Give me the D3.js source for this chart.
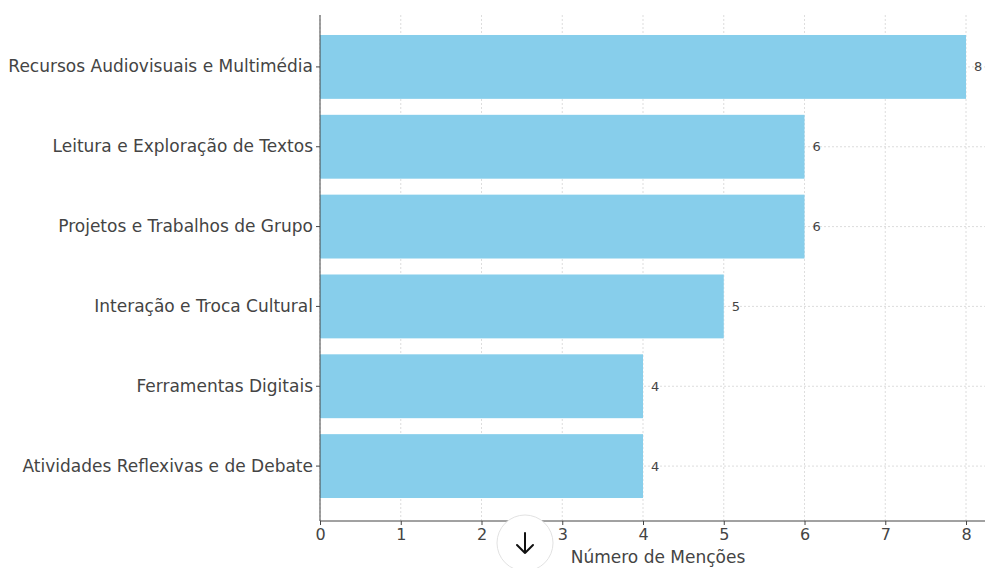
<!DOCTYPE html>
<html>
<head>
<meta charset="utf-8">
<script src="https://cdn.jsdelivr.net/npm/d3@7"></script>
<style>
  body { margin: 0; background: #fff; }
  svg { display: block; font-family: "DejaVu Sans", sans-serif; }
</style>
</head>
<body>
<svg id="chart" width="985" height="568"></svg>
<script>
var categories = [
  "Recursos Audiovisuais e Multimédia",
  "Leitura e Exploração de Textos",
  "Projetos e Trabalhos de Grupo",
  "Interação e Troca Cultural",
  "Ferramentas Digitais",
  "Atividades Reflexivas e de Debate"
];
var mentions = [8, 6, 6, 5, 4, 4];
var xTicks = [0, 1, 2, 3, 4, 5, 6, 7, 8];

// plot box (note: "top" is reserved on window, so use other names)
var plotLeft = 320, plotTop = 15, plotBottom = 521, plotRight = 985;

var svg = d3.select("#chart");

var x = d3.scaleLinear().domain([0, 8.235]).range([plotLeft, plotRight]);
var y = d3.scaleBand().domain(categories).range([27, 506])
    .paddingInner(0.2).paddingOuter(0.1);

// grid
var grid = svg.append("g").attr("stroke", "#d4d4d4").attr("stroke-width", 0.8)
    .attr("stroke-dasharray", "2,2");
grid.selectAll("line.v").data(xTicks).enter().append("line")
    .attr("x1", function(d) { return x(d); }).attr("x2", function(d) { return x(d); })
    .attr("y1", plotTop).attr("y2", plotBottom);
grid.selectAll("line.h").data(categories).enter().append("line")
    .attr("x1", plotLeft).attr("x2", plotRight)
    .attr("y1", function(d) { return y(d) + y.bandwidth() / 2; })
    .attr("y2", function(d) { return y(d) + y.bandwidth() / 2; });

// bars
svg.append("g").selectAll("rect").data(categories).enter().append("rect")
    .attr("x", x(0))
    .attr("y", function(d) { return y(d); })
    .attr("height", y.bandwidth())
    .attr("width", function(d, i) { return x(mentions[i]) - x(0); })
    .attr("fill", "#87ceeb");

// value labels
svg.append("g").selectAll("text").data(categories).enter().append("text")
    .attr("x", function(d, i) { return x(mentions[i]) + 8; })
    .attr("y", function(d) { return y(d) + y.bandwidth() / 2; })
    .attr("dy", "0.35em")
    .attr("font-size", 13)
    .attr("fill", "#444")
    .text(function(d, i) { return mentions[i]; });

// axes
var xAxis = d3.axisBottom(x).tickValues(xTicks).tickSize(4).tickPadding(4);
var gx = svg.append("g").attr("transform", "translate(0," + plotBottom + ")").call(xAxis);
gx.select(".domain").attr("d", "M" + plotLeft + ",0H" + plotRight).attr("stroke", "#444");
gx.selectAll(".tick line").attr("stroke", "#444");
gx.selectAll("text").attr("font-size", 16).attr("fill", "#444")
    .attr("font-family", "DejaVu Sans, sans-serif");

var yAxis = d3.axisLeft(y).tickSize(4).tickPadding(3);
var gy = svg.append("g").attr("transform", "translate(" + plotLeft + ",0)").call(yAxis);
gy.select(".domain").attr("d", "M0," + plotTop + "V" + plotBottom).attr("stroke", "#444");
gy.selectAll(".tick line").attr("stroke", "#444");
gy.selectAll("text").attr("font-size", 17).attr("fill", "#444")
    .attr("font-family", "DejaVu Sans, sans-serif");

svg.append("text")
    .attr("x", 658).attr("y", 563)
    .attr("text-anchor", "middle")
    .attr("font-size", 17).attr("fill", "#444")
    .text("Número de Menções");

// scroll-down button overlay seen in the screenshot
var btn = svg.append("g").attr("transform", "translate(525,543)");
btn.append("circle").attr("r", 28).attr("fill", "#fff").attr("stroke", "#e2e2e2");
btn.append("path").attr("d", "M0,-10V10M-8,2L0,10L8,2")
    .attr("fill", "none").attr("stroke", "#111").attr("stroke-width", 2)
    .attr("stroke-linecap", "round").attr("stroke-linejoin", "round");
</script>
</body>
</html>
